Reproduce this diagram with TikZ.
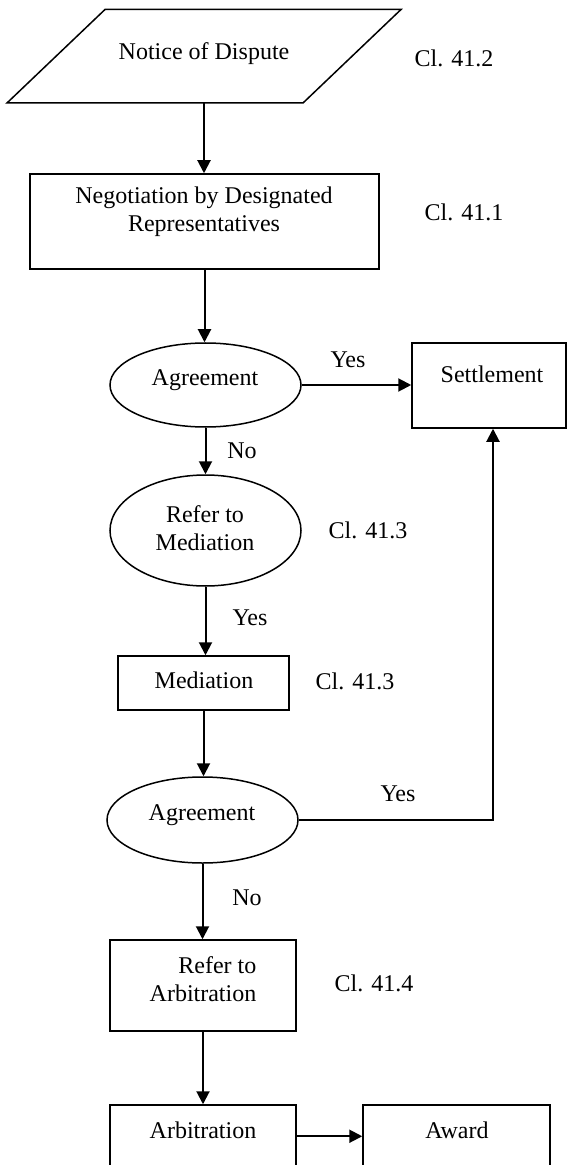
\documentclass[tikz,border=0pt]{standalone}
\usepackage{fontspec}
\setmainfont{Liberation Serif}
\usetikzlibrary{shapes.geometric,arrows.meta}
\begin{document}
\begin{tikzpicture}[x=0.5pt,y=-0.5pt,
  every node/.style={font=\fontsize{12}{14}\selectfont, inner sep=0pt},
  outline/.style={draw, line width=0.75pt},
  boxnode/.style={outline, rectangle},
  ovalnode/.style={outline, ellipse},
  arr/.style={line width=1pt, -{Triangle[length=6.5pt,width=6.5pt]}}]

\path[use as bounding box] (0,0) rectangle (567,1165);
\clip (0,0) rectangle (567,1165);

% start: notice of dispute (parallelogram)
\draw[outline, line join=miter] (105,9.5) -- (401,9.5) -- (303,103) -- (7,103) -- cycle;
\node[minimum width=148pt, minimum height=47pt] (notice) at (204,56) {};
\node (noticetxt) at (204,54) {Notice of Dispute};
\node (cl412) at (454,58) {Cl. 41.2};

% negotiation
\node[boxnode, minimum width=174.5pt, minimum height=47.5pt] (nego) at (204.5,221.5) {};
\node[align=center] (negotxt) at (204,212) {Negotiation by Designated\\Representatives};
\node (cl411) at (464,212) {Cl. 41.1};

% first agreement and settlement
\node[ovalnode, minimum width=95.5pt, minimum height=42pt] (agr1) at (205.5,385) {};
\node (agr1txt) at (205,380) {Agreement};
\node[boxnode, minimum width=77pt, minimum height=42.5pt] (settle) at (489,385.5) {};
\node (settletxt) at (492,374) {Settlement};
\node (yes1) at (348,360) {Yes};
\node (no1) at (242,451) {No};

% mediation
\node[ovalnode, minimum width=95.5pt, minimum height=55.5pt] (refmed) at (205.5,530.5) {};
\node[align=center] (refmedtxt) at (205,528) {Refer to\\Mediation};
\node (cl413a) at (368,530) {Cl. 41.3};
\node (yes2) at (250,618) {Yes};
\node[boxnode, minimum width=85.5pt, minimum height=27pt] (med) at (203.5,683) {};
\node (medtxt) at (204,680) {Mediation};
\node (cl413b) at (355,681) {Cl. 41.3};

% second agreement
\node[ovalnode, minimum width=95.5pt, minimum height=43pt] (agr2) at (202.5,820) {};
\node (agr2txt) at (202,815) {Agreement};
\node (yes3) at (398,794) {Yes};
\node (no2) at (247,898) {No};

% arbitration
\node[boxnode, minimum width=93pt, minimum height=45.5pt] (refarb) at (203,985.5) {};
\node[align=center] (refarbtxt) at (203,979) {\hspace*{1.2em}Refer to\\Arbitration};
\node (cl414) at (374,983) {Cl. 41.4};
\node[boxnode, minimum width=93pt, minimum height=50pt] (arb) at (203,1155) {};
\node (arbtxt) at (203,1130) {Arbitration};
\node[boxnode, minimum width=93.5pt, minimum height=50pt] (award) at (456.5,1155) {};
\node (awardtxt) at (457,1130) {Award};

% connectors
\draw[arr] (notice.south) -- (notice.south |- nego.north);
\draw[arr] (nego.south) -- (nego.south |- agr1.north);
\draw[arr] (agr1.east) -- (settle.west |- agr1.east);
\draw[arr] (agr1.south) -- (agr1.south |- refmed.north);
\draw[arr] (refmed.south) -- (refmed.south |- med.north);
\draw[arr] (med.south) -- (med.south |- agr2.north);
\draw[arr] (agr2.east) -| ([xshift=2pt]settle.south);
\draw[arr] (agr2.south) -- (agr2.south |- refarb.north);
\draw[arr] (refarb.south) -- (refarb.south |- arb.north);
\draw[arr] ([yshift=-16pt]arb.north east) -- ([yshift=-16pt]award.north west);
\end{tikzpicture}
\end{document}
